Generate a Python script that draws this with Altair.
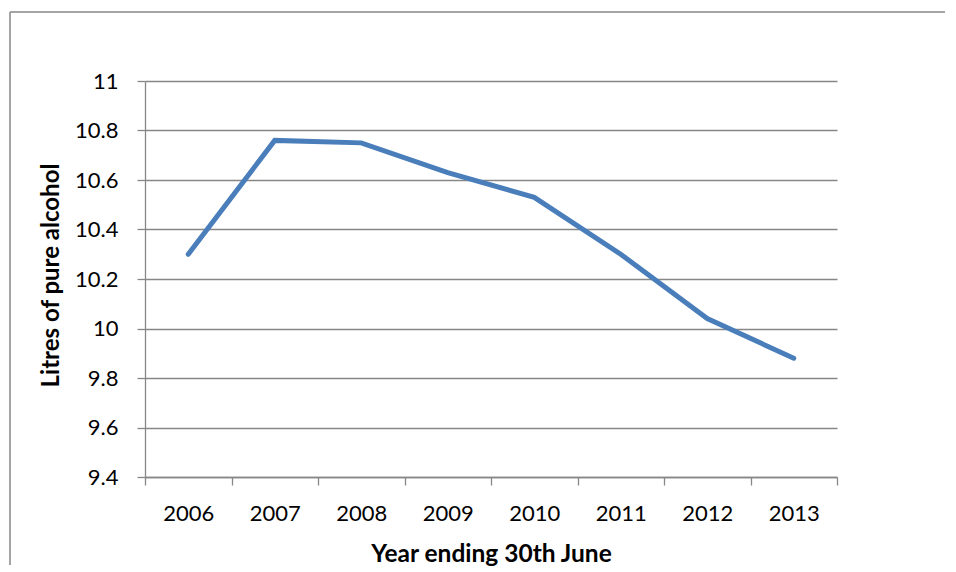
import altair as alt
import pandas as pd

years = ["2006", "2007", "2008", "2009", "2010", "2011", "2012", "2013"]
litres = [10.30, 10.76, 10.75, 10.63, 10.53, 10.30, 10.04, 9.88]
y_ticks = [9.4, 9.6, 9.8, 10.0, 10.2, 10.4, 10.6, 10.8, 11.0]

df = pd.DataFrame({"year": years, "litres": litres})
frame = pd.DataFrame({"k": [0]})

GRAY = "#878787"

line = alt.Chart(df).mark_line(
    color="#4A7EBB", strokeWidth=5, strokeCap="round"
).encode(
    x=alt.X(
        "year:O",
        bandPosition=0.5,
        scale=alt.Scale(type="band", paddingInner=0, paddingOuter=0),
        axis=alt.Axis(
            title="Year ending 30th June",
            labelAngle=0,
            tickBand="extent",
            grid=False,
            domainColor=GRAY,
            tickColor=GRAY,
            tickSize=8,
            labelPadding=35,
            labelBaseline="alphabetic",
            titleBaseline="alphabetic",
            titleY=84,
            titleFontSize=24.5,
        ),
    ),
    y=alt.Y(
        "litres:Q",
        scale=alt.Scale(domain=[9.4, 11.0], nice=False, zero=False),
        axis=alt.Axis(
            title="Litres of pure alcohol",
            values=y_ticks,
            format="~g",
            grid=True,
            gridColor=GRAY,
            domainColor=GRAY,
            tickColor=GRAY,
            tickSize=8,
            labelPadding=19,
            titleBaseline="alphabetic",
            titleX=-87,
            titleY=194,
        ),
    ),
)

border_v = alt.Chart(frame).mark_rule(color=GRAY, strokeWidth=1.5).encode(
    x=alt.value(-135), y=alt.value(-69), y2=alt.value(484)
)
border_h = alt.Chart(frame).mark_rule(color=GRAY, strokeWidth=1.5).encode(
    x=alt.value(-135), x2=alt.value(800), y=alt.value(-69)
)

chart = alt.layer(border_v, border_h, line).properties(
    width=692,
    height=396,
    autosize=alt.AutoSizeParams(type="none"),
    padding={"left": 137, "top": 73, "right": 111, "bottom": 90},
).configure_view(stroke=None).configure_axis(
    labelFont="Lato",
    labelFontSize=22,
    labelColor="#000000",
    titleFont="Lato",
    titleFontSize=24,
    titleFontWeight="bold",
    titleColor="#000000",
    gridWidth=1.3,
    domainWidth=1.3,
    tickWidth=1.3,
)

chart.save("out.html", embed_options={"renderer": "svg", "actions": False})
